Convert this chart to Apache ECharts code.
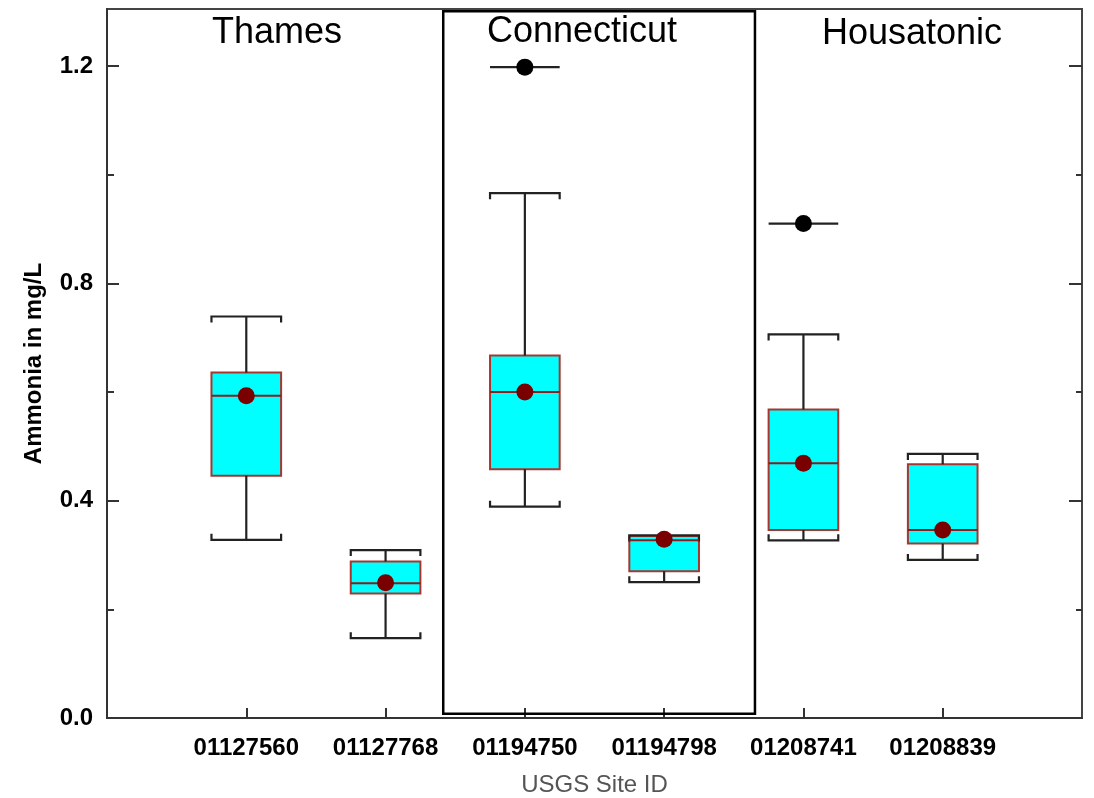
<!DOCTYPE html>
<html><head><meta charset="utf-8">
<script src="https://cdn.jsdelivr.net/npm/echarts@6/dist/echarts.min.js"></script>
<style>html,body{margin:0;padding:0;background:#fff}#c{width:1094px;height:798px}</style>
</head><body><div id="c"></div>
<script>
// ---- data ----
const categories = ['01127560','01127768','01194750','01194798','01208741','01208839'];
const whiskerLow  = [0.328, 0.147, 0.389, 0.250, 0.327, 0.291];
const q1          = [0.446, 0.229, 0.458, 0.270, 0.346, 0.321];
const median      = [0.593, 0.248, 0.600, 0.327, 0.469, 0.346];
const q3          = [0.636, 0.288, 0.667, 0.335, 0.568, 0.467];
const whiskerHigh = [0.739, 0.309, 0.966, 0.336, 0.706, 0.486];
const mean        = [0.593, 0.249, 0.600, 0.329, 0.469, 0.346];
const outlierSite  = ['01194750', '01208741'];
const outlierValue = [1.198, 0.910];
const yMajorTicks = [0, 0.4, 0.8, 1.2];
const yMinorTicks = [0.2, 0.6, 1.0];
const regionNames = ['Thames', 'Connecticut', 'Housatonic'];
// annotation box around the Connecticut sites (data coords: x from, y from, x to, y to)
const connecticutBox = [[2.414, 0.008, 4.652, 1.301]];

const FONT = '"Liberation Sans", Arial, sans-serif';
const xPos = categories.map((c, i) => i + 1);

const boxData = categories.map((c, i) => [i + 1, whiskerLow[i], q1[i], median[i], q3[i], whiskerHigh[i], mean[i]]);
const outlierData = outlierSite.map((s, i) => [categories.indexOf(s) + 1, outlierValue[i]]);

function renderBox(params, api) {
  const x = api.value(0);
  const P = v => api.coord([x, v]);
  const half = api.size([0.5, 0])[0] / 2;
  const cx = P(api.value(3))[0];
  const yLo = P(api.value(1))[1], yQ1 = P(api.value(2))[1], yMed = P(api.value(3))[1];
  const yQ3 = P(api.value(4))[1], yHi = P(api.value(5))[1], yMean = P(api.value(6))[1];
  const hook = 6;
  const w = { stroke: '#222', lineWidth: 2.2, fill: null };
  return { type: 'group', children: [
    { type: 'rect', shape: { x: cx - half, y: yQ3, width: 2 * half, height: yQ1 - yQ3 }, style: { fill: '#00ffff', stroke: '#a8362e', lineWidth: 2 } },
    { type: 'line', shape: { x1: cx, y1: yHi, x2: cx, y2: yQ3 }, style: w },
    { type: 'line', shape: { x1: cx, y1: yQ1, x2: cx, y2: yLo }, style: w },
    { type: 'polyline', shape: { points: [[cx - half, yHi + hook], [cx - half, yHi], [cx + half, yHi], [cx + half, yHi + hook]] }, style: w },
    { type: 'polyline', shape: { points: [[cx - half, yLo - hook], [cx - half, yLo], [cx + half, yLo], [cx + half, yLo - hook]] }, style: w },
    { type: 'line', shape: { x1: cx - half, y1: yMed, x2: cx + half, y2: yMed }, style: { stroke: '#8a1c1c', lineWidth: 2 } },
    { type: 'circle', shape: { cx: cx, cy: yMean, r: 8.5 }, style: { fill: '#7a0000' } }
  ]};
}
function renderOutlier(params, api) {
  const p = api.coord([api.value(0), api.value(1)]);
  const half = api.size([0.5, 0])[0] / 2;
  return { type: 'group', children: [
    { type: 'line', shape: { x1: p[0] - half, y1: p[1], x2: p[0] + half, y2: p[1] }, style: { stroke: '#222', lineWidth: 2.2 } },
    { type: 'circle', shape: { cx: p[0], cy: p[1], r: 8.5 }, style: { fill: '#000' } }
  ]};
}
function renderFrame(params, api) {
  const a = api.coord([api.value(0), api.value(1)]);
  const b = api.coord([api.value(2), api.value(3)]);
  return { type: 'rect', shape: { x: a[0], y: b[1], width: b[0] - a[0], height: a[1] - b[1] },
    style: { fill: null, stroke: '#000', lineWidth: 2.5 } };
}

const yBase = { type: 'value', min: 0, max: 1.305, splitLine: { show: false } };
const chart = echarts.init(document.getElementById('c'));
chart.setOption({
  animation: false,
  backgroundColor: '#fff',
  grid: { left: 107, right: 12, top: 9, bottom: 80, show: true, borderColor: '#444', borderWidth: 2, backgroundColor: 'transparent', containLabel: false, outerBoundsMode: 'none' },
  xAxis: {
    type: 'value', min: 0, max: 7, splitLine: { show: false },
    axisLine: { show: true, lineStyle: { color: '#333', width: 2 } },
    axisTick: { show: true, inside: true, length: 10, customValues: xPos, lineStyle: { color: '#333', width: 2 } },
    axisLabel: { customValues: xPos, formatter: v => categories[Math.round(v) - 1] || '', color: '#000', fontWeight: 'bold', fontSize: 24, fontFamily: FONT, margin: 18 },
    name: 'USGS Site ID', nameLocation: 'middle', nameGap: 55,
    nameTextStyle: { color: '#555', fontSize: 24, fontFamily: FONT }
  },
  yAxis: [
    Object.assign({}, yBase, {
      position: 'left',
      axisLine: { show: true, lineStyle: { color: '#333', width: 2 } },
      axisTick: { show: true, inside: true, length: 12, customValues: yMajorTicks, lineStyle: { color: '#333', width: 2 } },
      axisLabel: { customValues: yMajorTicks, formatter: v => v.toFixed(1), color: '#000', fontWeight: 'bold', fontSize: 24, fontFamily: FONT, margin: 14 },
      name: 'Ammonia in mg/L', nameLocation: 'middle', nameGap: 61, nameRotate: 90,
      nameTextStyle: { color: '#000', fontWeight: 'bold', fontSize: 24, fontFamily: FONT }
    }),
    Object.assign({}, yBase, {
      position: 'left', axisLine: { show: false }, axisLabel: { show: false },
      axisTick: { show: true, inside: true, length: 7, customValues: yMinorTicks, lineStyle: { color: '#333', width: 2 } }
    }),
    Object.assign({}, yBase, {
      position: 'right', axisLine: { show: true, lineStyle: { color: '#444', width: 2 } }, axisLabel: { show: false },
      axisTick: { show: true, inside: true, length: 13, customValues: yMajorTicks, lineStyle: { color: '#333', width: 2 } }
    }),
    Object.assign({}, yBase, {
      position: 'right', axisLine: { show: false }, axisLabel: { show: false },
      axisTick: { show: true, inside: true, length: 6, customValues: yMinorTicks, lineStyle: { color: '#333', width: 2 } }
    })
  ],
  graphic: [
    { type: 'text', x: 277, y: 33, style: { text: regionNames[0], fontSize: 36, fontFamily: FONT, fill: '#000', align: 'center', verticalAlign: 'middle' } },
    { type: 'text', x: 582, y: 32, style: { text: regionNames[1], fontSize: 36, fontFamily: FONT, fill: '#000', align: 'center', verticalAlign: 'middle' } },
    { type: 'text', x: 912, y: 34, style: { text: regionNames[2], fontSize: 36, fontFamily: FONT, fill: '#000', align: 'center', verticalAlign: 'middle' } }
  ],
  series: [
    { type: 'custom', name: 'frame', renderItem: renderFrame, data: connecticutBox, encode: { x: [0, 2], y: [1, 3] }, silent: true, z: 1 },
    { type: 'custom', name: 'box', renderItem: renderBox, data: boxData, encode: { x: 0, y: [1, 5] }, z: 2 },
    { type: 'custom', name: 'outliers', renderItem: renderOutlier, data: outlierData, encode: { x: 0, y: 1 }, z: 3 }
  ]
});
</script>
</body></html>
